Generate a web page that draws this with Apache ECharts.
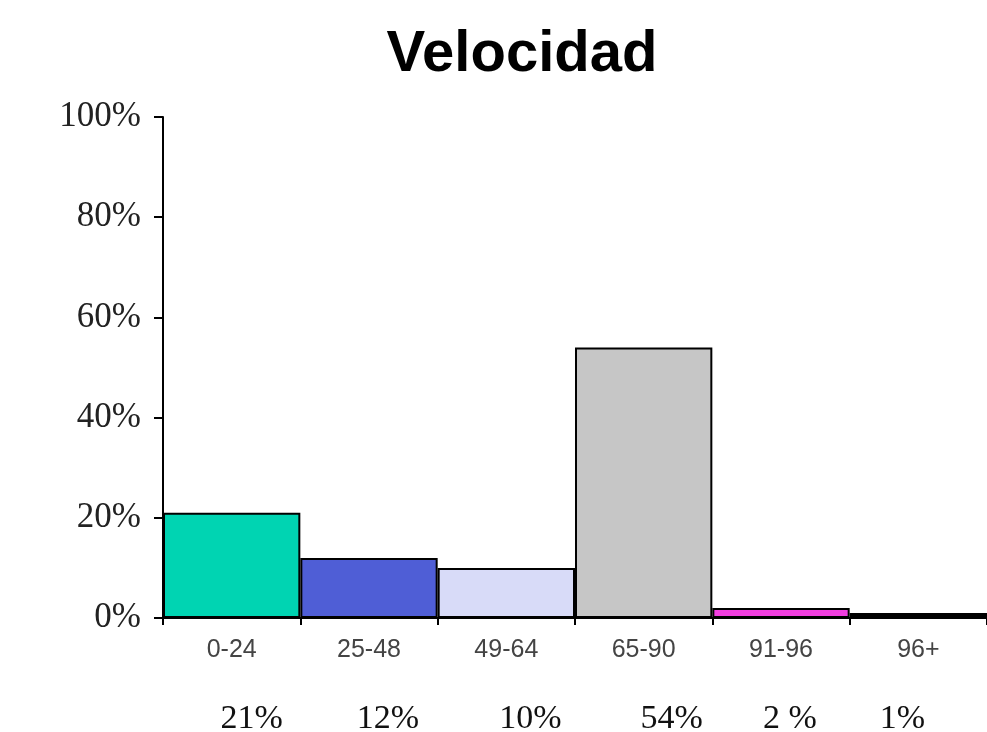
<!DOCTYPE html>
<html>
<head>
<meta charset="utf-8">
<script src="https://cdn.jsdelivr.net/npm/echarts@6/dist/echarts.min.js"></script>
<style>html,body{margin:0;padding:0;background:#fff}#c{width:987px;height:732px}</style>
</head>
<body>
<div id="c"></div>
<script>
var title = 'Velocidad';
var categories = ['0-24', '25-48', '49-64', '65-90', '91-96', '96+'];
var values = [21, 12, 10, 54, 2, 1];
var percentLabels = ['21%', '12%', '10%', '54%', '2 %', '1%'];
var yTicks = [0, 20, 40, 60, 80, 100];

var barColors = ['#00D4B2', '#4F5ED6', '#D8DBF8', '#C6C6C6', '#F23EE0', '#000000'];
var labelShift = [20, 19, 24, 28, 9, -16];

var chart = echarts.init(document.getElementById('c'));
chart.setOption({
  animation: false,
  backgroundColor: '#fff',
  title: {
    text: title,
    left: 517, textAlign: 'center',
    top: 21,
    textStyle: { fontFamily: 'Liberation Sans', fontWeight: 'bold', fontSize: 58, color: '#000' }
  },
  grid: { left: 163, right: 0, top: 117, bottom: 114, containLabel: false, outerBoundsMode: 'none' },
  xAxis: [{
    type: 'category',
    data: categories,
    boundaryGap: true,
    axisLine: { lineStyle: { color: '#000', width: 2 } },
    axisTick: { show: true, length: 7, lineStyle: { color: '#000', width: 2 } },
    axisLabel: { margin: 20, fontFamily: 'Liberation Sans', fontSize: 25, color: '#444' }
  }, {
    type: 'category',
    position: 'bottom',
    data: percentLabels.map(function (t, i) {
      var s = labelShift[i];
      return { value: t, textStyle: { padding: s >= 0 ? [0, 0, 0, 2 * s] : [0, -2 * s, 0, 0] } };
    }),
    boundaryGap: true,
    axisLine: { show: false },
    axisTick: { show: false },
    axisLabel: { margin: 84, fontFamily: 'Liberation Serif', fontSize: 34, color: '#111' }
  }],
  yAxis: {
    type: 'value',
    min: 0, max: 100, interval: 20,
    axisLine: { show: true, lineStyle: { color: '#000', width: 2 } },
    axisTick: { show: true, length: 9, lineStyle: { color: '#000', width: 2 } },
    splitLine: { show: false },
    axisLabel: {
      margin: 22,
      fontFamily: 'Liberation Serif', fontSize: 35, color: '#222',
      formatter: function (v) { return yTicks.indexOf(v) >= 0 ? v + '%' : ''; }
    }
  },
  series: [{
    type: 'bar',
    xAxisIndex: 0,
    data: values.map(function (v, i) {
      return { value: v, itemStyle: { color: barColors[i] } };
    }),
    barCategoryGap: 0,
    itemStyle: { borderColor: '#000', borderWidth: 2 }
  }]
});
</script>
</body>
</html>
